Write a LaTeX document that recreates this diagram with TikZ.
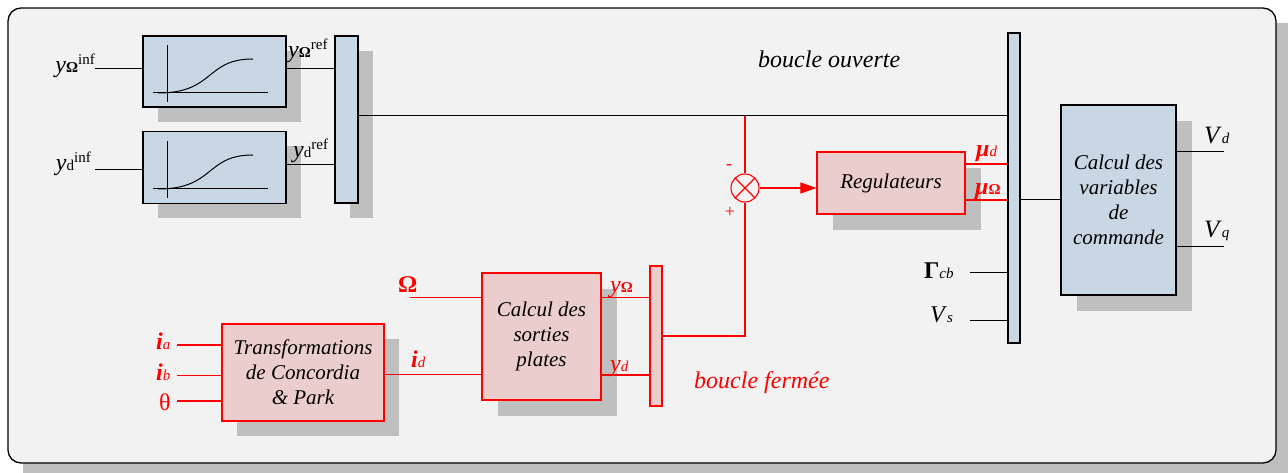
\documentclass[tikz,border=0pt]{standalone}
\usepackage{fontspec}
\setmainfont{Liberation Serif}
\usetikzlibrary{arrows.meta,shadows,calc}
\definecolor{bgc}{RGB}{242,242,242}
\definecolor{bluef}{RGB}{201,214,228}
\definecolor{pinkf}{RGB}{236,205,205}
\definecolor{shad}{RGB}{191,191,191}
\definecolor{rd}{RGB}{255,0,0}
\newcommand\lsub[1]{{\fontsize{15}{16}\selectfont #1}}
\begin{document}
\begin{tikzpicture}[x=1pt,y=-1pt,
  shadowed/.style={general shadow={fill=shad, shadow xshift=#1, shadow yshift=-#1}},
  bluebox/.style={draw=black, line width=1.2pt, fill=bluef, inner sep=0pt},
  redbox/.style={draw=rd, line width=1.2pt, fill=pinkf, inner sep=0pt},
  boxtxt/.style={font=\fontsize{21}{25}\selectfont\itshape, align=center, text=black},
  wire/.style={line width=1pt, draw=black},
  rwire/.style={line width=1.1pt, draw=rd},
  lab/.style={inner sep=0pt, font=\fontsize{24}{26}\selectfont},
  rlab/.style={lab, text=rd},
  loop/.style={inner sep=0pt, font=\fontsize{24}{26}\selectfont\itshape},
]
\useasboundingbox (0,0) rectangle (1288,473);
\clip (0,0) rectangle (1288,473);
\fill[white] (0,0) rectangle (1288,473);
% outer frame
\fill[shad, rounded corners=13pt] (23,23) rectangle (1310,495);
\draw[fill=bgc, line width=1.3pt, rounded corners=13pt] (8,8) rectangle (1276,463);

% blocks
\node[bluebox, shadowed=15pt, minimum width=143pt, minimum height=71pt] (sigA) at (214.5,71.5) {};
\node[bluebox, shadowed=15pt, minimum width=143pt, minimum height=72pt] (sigB) at (214.5,167.5) {};
\node[bluebox, shadowed=15pt, minimum width=23pt, minimum height=167pt] (mux1) at (346.5,119.5) {};
\node[bluebox, minimum width=12pt, minimum height=310pt] (bus) at (1014,188) {};
\node[bluebox, shadowed=16pt, minimum width=115pt, minimum height=190pt, boxtxt] (cmd) at (1118.5,200) {Calcul des\\variables\\de\\commande};
\node[redbox, shadowed=16pt, minimum width=148pt, minimum height=62pt, boxtxt] (reg) at (891,183) {Regulateurs};
\node[redbox, shadowed=15pt, minimum width=162pt, minimum height=97pt, boxtxt] (tr) at (303,372.5) {Transformations\\de Concordia\\\& Park};
\node[redbox, shadowed=16pt, minimum width=119pt, minimum height=127pt, boxtxt] (cs) at (541.5,336.5) {Calcul des\\sorties\\plates};
\node[redbox, minimum width=12pt, minimum height=140pt] (mux2) at (656,336) {};
\node[draw=rd, line width=1.1pt, circle, minimum size=28pt, inner sep=0pt, fill=bgc] (sum) at (745,188) {};
\draw[rwire] (sum.north east) -- (sum.south west);
\draw[rwire] (sum.north west) -- (sum.south east);

% sigmoid graphics
\draw[wire] (167,45) -- (167,102);
\draw[wire] (153,93) -- (268,93);
\draw[wire] (158,93) .. controls (215,93) and (205,59) .. (253,59);
\draw[wire] (167,141) -- (167,198);
\draw[wire] (153,189) -- (268,189);
\draw[wire] (158,189) .. controls (215,189) and (205,155) .. (253,155);

% coordinates
\coordinate (inA) at (95,68.3);
\coordinate (inB) at (95,170);
\coordinate (oA) at (0,68.3);
\coordinate (oB) at (0,165);
\coordinate (j) at (745,116);
\coordinate (mu1) at (0,164);
\coordinate (mu2) at (0,200);
\coordinate (vd) at (1224,152);
\coordinate (vq) at (1224,247);
\coordinate (gc) at (970,272);
\coordinate (vs) at (970,320);
\coordinate (ia) at (177,345);
\coordinate (ib) at (177,375.4);
\coordinate (th) at (177,401);
\coordinate (id) at (0,374.3);
\coordinate (om) at (410,297.5);
\coordinate (yd) at (0,375);

% wires
\draw[wire] (inA) -- (inA -| sigA.west);
\draw[wire] (inB) -- (inB -| sigB.west);
\draw[wire] (sigA.east |- oA) -- (mux1.west |- oA);
\draw[wire] (sigB.east |- oB) -- (mux1.west |- oB);
\draw[wire] (mux1.east |- j) -- (bus.west |- j);
\draw[rwire] (j) -- (sum.north);
\draw[rwire, -{Triangle[length=16pt,width=11pt]}] (sum.east) -- (sum.east -| reg.west);
\draw[rwire] (sum.south) |- (mux2.east);
\draw[rwire] (reg.east |- mu1) -- (bus.west |- mu1);
\draw[rwire] (reg.east |- mu2) -- (bus.west |- mu2);
\draw[wire] (bus.east |- cmd.west) -- (cmd.west);
\draw[wire] (cmd.east |- vd) -- (vd);
\draw[wire] (cmd.east |- vq) -- (vq);
\draw[wire] (gc) -- (gc -| bus.west);
\draw[wire] (vs) -- (vs -| bus.west);
\draw[rwire] (ia) -- (ia -| tr.west);
\draw[rwire] (ib) -- (ib -| tr.west);
\draw[rwire] (th) -- (th -| tr.west);
\draw[rwire] (tr.east |- id) -- (cs.west |- id);
\draw[rwire] (om) -- (om -| cs.west);
\draw[rwire] (cs.east |- om) -- (mux2.west |- om);
\draw[rwire] (cs.east |- yd) -- (mux2.west |- yd);

% labels
\node[lab, anchor=base east] (lyOinf) at (95,73) {\textit{y}\lsub{\textbf{Ω}}\raisebox{8pt}{\lsub{inf}}};
\node[lab, anchor=base east] (lydinf) at (91,171) {\textit{y}\lsub{d}\raisebox{8pt}{\lsub{inf}}};
\node[lab, anchor=base west] (lyOref) at (288,58) {\textit{y}\lsub{\textbf{Ω}}\raisebox{8pt}{\lsub{ref}}};
\node[lab, anchor=base west] (lydref) at (293,158) {\textit{y}\lsub{d}\raisebox{8pt}{\lsub{ref}}};
\node[loop, anchor=base west] (bo) at (758,68) {boucle ouverte};
\node[loop, anchor=base west, text=rd] (bf) at (694,388) {boucle fermée};
\node[rlab, anchor=base west] (lmud) at (976,157) {\textbf{\textit{μ}}\lsub{\textit{d}}};
\node[rlab, anchor=base west] (lmuO) at (975,195) {\textbf{\textit{μ}}\lsub{\textbf{Ω}}};
\node[lab, anchor=base west, font=\fontsize{25}{27}\selectfont] (lVd) at (1204,144) {\textit{V}\lsub{\textit{d}}};
\node[lab, anchor=base west, font=\fontsize{25}{27}\selectfont] (lVq) at (1204,237) {\textit{V}\lsub{\textit{q}}};
\node[lab, anchor=base west] (lG) at (924,279) {\textbf{Γ}\lsub{\textit{cb}}};
\node[lab, anchor=base west] (lVs) at (930,322) {\textit{V}\lsub{\textit{s}}};
\node[rlab, anchor=base west] (lia) at (156,349) {\textbf{\textit{i}}\lsub{\textit{a}}};
\node[rlab, anchor=base west] (lib) at (156,380) {\textbf{\textit{i}}\lsub{\textit{b}}};
\node[rlab, anchor=base west] (lth) at (159,410) {θ};
\node[rlab, anchor=base west] (lid) at (411,367) {\textbf{\textit{i}}\lsub{\textit{d}}};
\node[rlab, anchor=base west] (lOm) at (398,292) {\textbf{Ω}};
\node[rlab, anchor=base west] (lyO) at (610,292) {\textit{y}\lsub{\textbf{Ω}}};
\node[rlab, anchor=base west] (lyd) at (610,371) {\textit{y}\lsub{\textit{d}}};
\node[rlab, anchor=base, font=\fontsize{18}{20}\selectfont] (lminus) at (729,170) {-};
\node[rlab, anchor=base, font=\fontsize{18}{20}\selectfont] (lplus) at (730,218) {+};
\end{tikzpicture}
\end{document}
